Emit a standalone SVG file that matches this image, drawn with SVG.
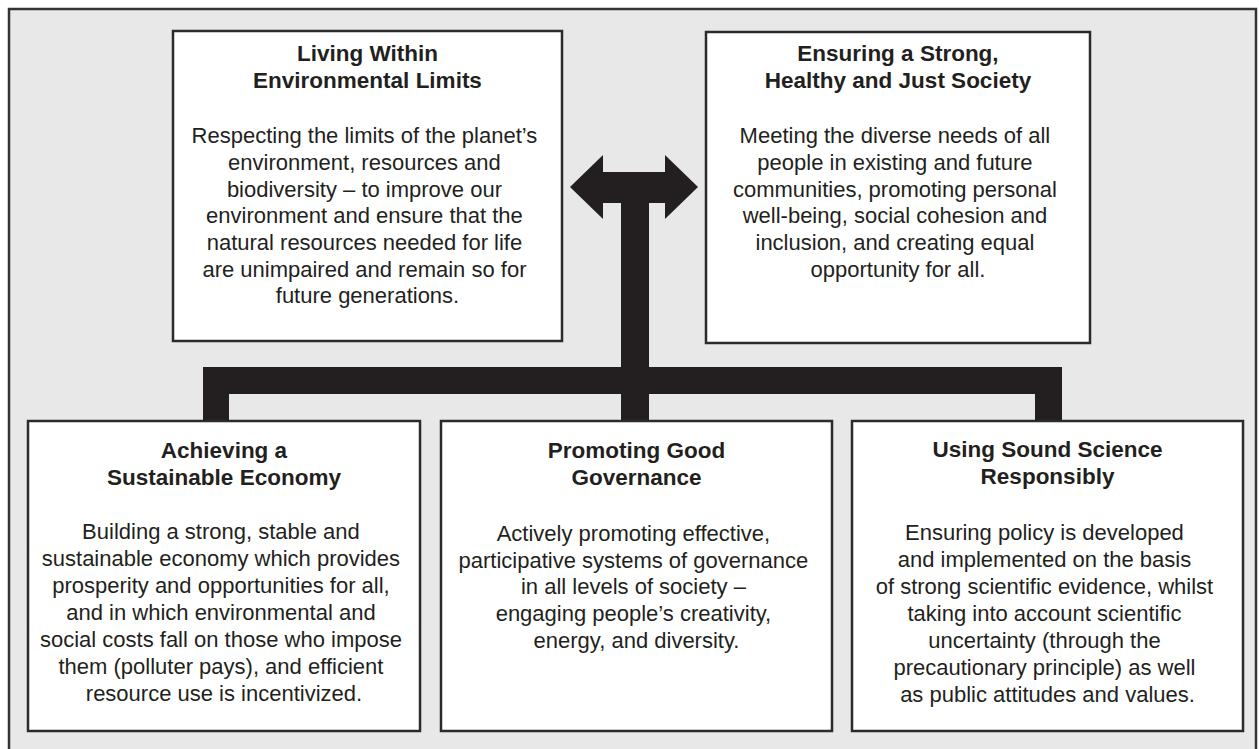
<svg xmlns="http://www.w3.org/2000/svg" width="1259" height="749" viewBox="0 0 1259 749">
  <style>
    .frame { fill: #e8e8e8; stroke: #333333; stroke-width: 2.5; }
    .box { fill: #ffffff; stroke: #2b2b2b; stroke-width: 2.5; }
    .bar { fill: #231f20; }
    .title { font-family: "Liberation Sans", Arial, Helvetica, sans-serif; font-weight: bold; font-size: 22.5px; fill: #231f20; text-anchor: middle; }
    .body { font-family: "Liberation Sans", Arial, Helvetica, sans-serif; font-size: 22px; fill: #231f20; text-anchor: middle; }
  </style>

  <!-- background panel (open at the bottom edge) -->
  <rect class="frame" x="9" y="9" width="1247" height="770"/>

  <!-- connectors: double-headed arrow, stem and distribution bar -->
  <g id="connectors">
    <path class="bar" d="M570,187 L603,155 L603,172 L665,172 L665,155 L698,187 L665,219 L665,203 L603,203 L603,219 Z"/>
    <rect class="bar" x="621" y="200" width="28" height="222"/>
    <rect class="bar" x="203" y="367" width="859" height="27"/>
    <rect class="bar" x="203" y="367" width="26" height="55"/>
    <rect class="bar" x="1035" y="367" width="27" height="55"/>
  </g>

  <g id="environmental-limits">
    <rect class="box" x="173" y="31" width="389" height="310"/>
    <text class="title"><tspan x="367.5" y="61">Living Within</tspan><tspan x="367.5" y="88">Environmental Limits</tspan></text>
    <text class="body">
      <tspan x="367.5" y="143">Respecting the limits of the planet’s</tspan>
      <tspan x="367.5" y="170">environment, resources and</tspan>
      <tspan x="367.5" y="196.5">biodiversity – to improve our</tspan>
      <tspan x="367.5" y="223">environment and ensure that the</tspan>
      <tspan x="367.5" y="250">natural resources needed for life</tspan>
      <tspan x="367.5" y="276.5">are unimpaired and remain so for</tspan>
      <tspan x="367.5" y="303">future generations.</tspan>
    </text>
  </g>

  <g id="just-society">
    <rect class="box" x="706" y="32" width="384" height="311"/>
    <text class="title"><tspan x="898" y="61">Ensuring a Strong,</tspan><tspan x="898" y="88">Healthy and Just Society</tspan></text>
    <text class="body">
      <tspan x="898" y="143">Meeting the diverse needs of all</tspan>
      <tspan x="898" y="170">people in existing and future</tspan>
      <tspan x="898" y="196.5">communities, promoting personal</tspan>
      <tspan x="898" y="223">well-being, social cohesion and</tspan>
      <tspan x="898" y="250">inclusion, and creating equal</tspan>
      <tspan x="898" y="276.5">opportunity for all.</tspan>
    </text>
  </g>

  <g id="sustainable-economy">
    <rect class="box" x="28" y="421" width="392" height="310"/>
    <text class="title"><tspan x="224" y="458">Achieving a</tspan><tspan x="224" y="485">Sustainable Economy</tspan></text>
    <text class="body">
      <tspan x="224" y="539">Building a strong, stable and</tspan>
      <tspan x="224" y="566">sustainable economy which provides</tspan>
      <tspan x="224" y="593">prosperity and opportunities for all,</tspan>
      <tspan x="224" y="620">and in which environmental and</tspan>
      <tspan x="224" y="647">social costs fall on those who impose</tspan>
      <tspan x="224" y="674">them (polluter pays), and efficient</tspan>
      <tspan x="224" y="701">resource use is incentivized.</tspan>
    </text>
  </g>

  <g id="good-governance">
    <rect class="box" x="441" y="421" width="391" height="310"/>
    <text class="title"><tspan x="636.5" y="458">Promoting Good</tspan><tspan x="636.5" y="485">Governance</tspan></text>
    <text class="body">
      <tspan x="636.5" y="541">Actively promoting effective,</tspan>
      <tspan x="636.5" y="567.5">participative systems of governance</tspan>
      <tspan x="636.5" y="594">in all levels of society –</tspan>
      <tspan x="636.5" y="621">engaging people’s creativity,</tspan>
      <tspan x="636.5" y="647.5">energy, and diversity.</tspan>
    </text>
  </g>

  <g id="sound-science">
    <rect class="box" x="852" y="421" width="391" height="310"/>
    <text class="title"><tspan x="1047.5" y="457">Using Sound Science</tspan><tspan x="1047.5" y="484">Responsibly</tspan></text>
    <text class="body">
      <tspan x="1047.5" y="540">Ensuring policy is developed</tspan>
      <tspan x="1047.5" y="567">and implemented on the basis</tspan>
      <tspan x="1047.5" y="594">of strong scientific evidence, whilst</tspan>
      <tspan x="1047.5" y="621">taking into account scientific</tspan>
      <tspan x="1047.5" y="648">uncertainty (through the</tspan>
      <tspan x="1047.5" y="675">precautionary principle) as well</tspan>
      <tspan x="1047.5" y="702">as public attitudes and values.</tspan>
    </text>
  </g>
</svg>
